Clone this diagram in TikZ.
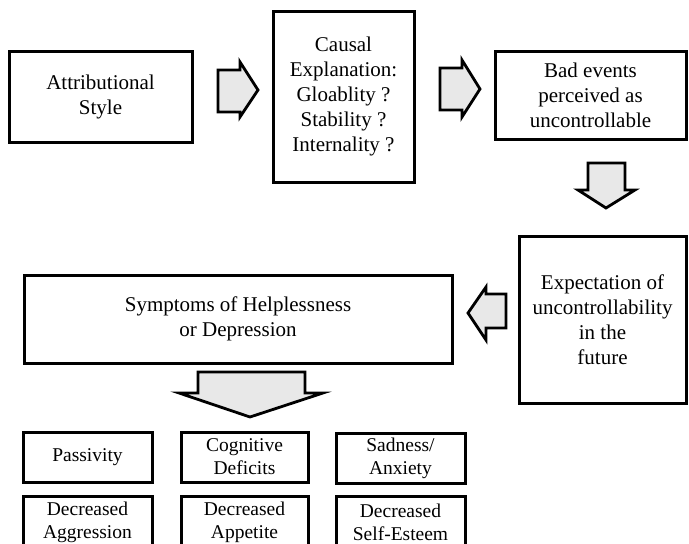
\documentclass[tikz,border=0pt]{standalone}
\usepackage{fontspec}
\setmainfont{Liberation Serif}
\begin{document}
\begin{tikzpicture}[x=1pt,y=-1pt,
  box/.style={draw=black, line width=3pt, fill=white, align=center, inner sep=0pt,
    font=\fontsize{21}{25}\selectfont},
  smallbox/.style={box, font=\fontsize{19.5}{23}\selectfont},
  blockarrow/.style={draw=black, line width=2.8pt, fill=gray!18, line join=miter}]
\useasboundingbox (0,0) rectangle (689,544);

% main boxes
\node[box, minimum width=183pt, minimum height=91pt] (attr) at (100.5,96.5) {Attributional\\Style};
\node[box, minimum width=141pt, minimum height=171pt] (causal) at (343.5,96.5)
  {Causal\\Explanation:\\Gloablity ?\\Stability ?\\Internality ?};
\node[box, minimum width=191pt, minimum height=88pt] (bad) at (590.5,95)
  {Bad events\\perceived as\\uncontrollable};
\node[box, minimum width=167pt, minimum height=167pt] (expect) at (602.5,319.5)
  {Expectation of\\uncontrollability\\in the\\future};
\node[box, minimum width=428pt, minimum height=88pt] (symp) at (238,319)
  {Symptoms of Helplessness\\or Depression};

% symptom boxes
\node[smallbox, minimum width=129pt, minimum height=50pt] (pass) at (87.5,457) {Passivity};
\node[smallbox, minimum width=127pt, minimum height=50pt] (cog) at (244.5,457) {Cognitive\\Deficits};
\node[smallbox, minimum width=129pt, minimum height=50pt] (sad) at (400.5,458) {Sadness/\\Anxiety};
\node[smallbox, minimum width=129pt, minimum height=52pt] (aggr) at (87.5,522) {Decreased\\Aggression};
\node[smallbox, minimum width=127pt, minimum height=52pt] (appe) at (244.5,522) {Decreased\\Appetite};
\node[smallbox, minimum width=129pt, minimum height=52pt] (self) at (400.5,522.5) {Decreased\\Self-Esteem};

% block arrows
\draw[blockarrow] (218,70) -- (240,70) -- (240,62) -- (258,90) -- (240,117) -- (240,112) -- (218,112) -- cycle;
\draw[blockarrow] (440,68) -- (462,68) -- (462,60) -- (480,89) -- (462,117) -- (462,110) -- (440,110) -- cycle;
\draw[blockarrow] (588,163) -- (625,163) -- (625,190) -- (635,190) -- (606,208) -- (578,190) -- (588,190) -- cycle;
\draw[blockarrow] (506,294) -- (486,294) -- (486,287) -- (468,313) -- (486,340) -- (486,328) -- (506,328) -- cycle;
\draw[blockarrow] (198,372) -- (305,372) -- (305,393) -- (323,393) -- (250,417) -- (179,393) -- (198,393) -- cycle;
\end{tikzpicture}
\end{document}
